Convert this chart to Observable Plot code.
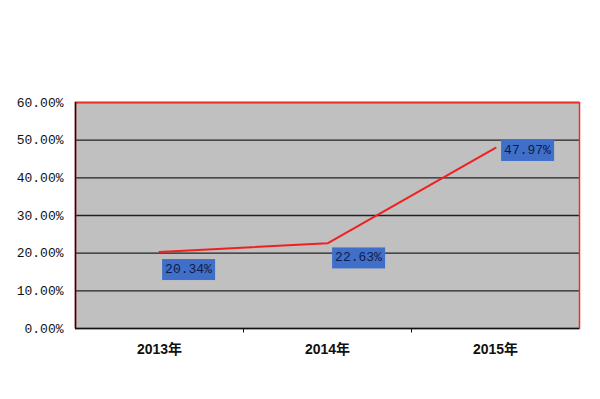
<!DOCTYPE html>
<html><head><meta charset="utf-8">
<script src="https://cdn.jsdelivr.net/npm/d3@7"></script>
<script src="https://cdn.jsdelivr.net/npm/@observablehq/plot@0.6"></script>
<style>body{margin:0;background:#fff;} #c{width:600px;height:399px;}</style>
</head><body><div id="c"></div>
<script>
const years = ["2013年", "2014年", "2015年"];
const rates = [0.2034, 0.2263, 0.4797];
const rateLabels = ["20.34%", "22.63%", "47.97%"];
const yTicks = [0, 0.1, 0.2, 0.3, 0.4, 0.5, 0.6];

const data = years.map((y, i) => ({i: i + 0.5, year: y, v: rates[i], label: rateLabels[i]}));
const labelOffsets = [[29, 17], [31, 14], [32, 2]];
const mono = "'Liberation Mono', 'DejaVu Sans Mono', monospace";

const chart = Plot.plot({
  width: 600, height: 399,
  marginLeft: 75, marginRight: 21, marginTop: 102, marginBottom: 71,
  style: {fontFamily: mono, fontSize: "13px", color: "#111", background: "#fff"},
  x: {type: "linear", domain: [0, years.length], label: null},
  y: {domain: [0, 0.6], label: null},
  marks: [
    Plot.frame({fill: "#c0c0c0"}),
    Plot.ruleY(yTicks.slice(1), {stroke: "#222", strokeWidth: 1.3}),
    Plot.frame({stroke: "#e8302a", strokeWidth: 1.5}),
    Plot.ruleY([0], {stroke: "#111", strokeWidth: 1.5}),
    Plot.ruleX([0], {stroke: "#111", strokeWidth: 1.5}),
    Plot.ruleX(d3.range(1, years.length), {y1: 0, y2: -0.012, stroke: "#111"}),
    Plot.axisY({ticks: yTicks, tickSize: 0, tickPadding: 12, label: null, tickFormat: d => (d * 100).toFixed(2) + "%", fontSize: 13}),
    Plot.axisX({ticks: data.map(d => d.i), tickSize: 0, tickPadding: 16, label: null, tickFormat: (d, k) => years[k], fontSize: 14, fontWeight: 600, fontFamily: "'Liberation Sans', 'Noto Sans CJK SC', sans-serif"}),
    Plot.line(data, {x: "i", y: "v", stroke: "#f02020", strokeWidth: 2}),
    ...data.map((d, k) => Plot.text([d], {x: "i", y: "v", text: "label", dx: labelOffsets[k][0], dy: labelOffsets[k][1], fill: "#101c48", fontSize: 13, fontFamily: mono, className: "vlab"}))
  ]
});
document.getElementById("c").appendChild(chart);
// blue boxes behind value labels
chart.querySelectorAll(".vlab text").forEach(t => {
  const b = t.getBBox();
  const r = document.createElementNS("http://www.w3.org/2000/svg", "rect");
  r.setAttribute("x", b.x - 3); r.setAttribute("y", b.y - 3);
  r.setAttribute("width", b.width + 6); r.setAttribute("height", b.height + 6);
  r.setAttribute("fill", "#3f6fc8");
  if (t.getAttribute("transform")) r.setAttribute("transform", t.getAttribute("transform"));
  t.parentNode.insertBefore(r, t);
});
</script></body></html>
